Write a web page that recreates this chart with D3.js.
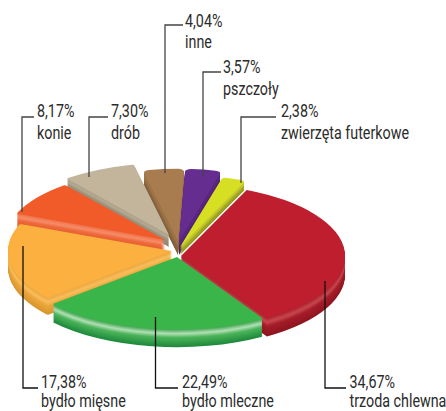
<!DOCTYPE html>
<html><head><meta charset="utf-8">
<script src="https://cdn.jsdelivr.net/npm/d3@7"></script>
<style>html,body{margin:0;padding:0;background:#fff;overflow:hidden}svg{display:block}
text{font-family:"Roboto",sans-serif;font-size:18px;fill:#2b2b2b}</style>
</head><body><svg id="c" width="446" height="411"></svg>
<script>
// data (clockwise from the top-right start of the pie)
const categories=["trzoda chlewna","bydło mleczne","bydło mięsne","konie","drób","inne","pszczoły","zwierzęta futerkowe"];
const values=[34.67,22.49,17.38,8.17,7.30,4.04,3.57,2.38];

// layout
const centerX=[181,177,172,165,169,178,179,180];
const centerY=[256,257,251,240,235,241,241,247];
const radiusX=[164,164,164,160,164,164,164,164];
const depth=[19,18,17,14,12,14,14,8];
const corner=[0,2,2,2,2,6,6,5];
const drawOrder=[5,6,4,7,3,0,2,1];
const topColors=["#be1e2d","#39b54a","#fbb040","#f15a29","#c2b59b","#a97c50","#662d91","#d7df23"];
const wallColors=[
 ["#a81c29","#c8494f","#a51d2a","#8e1620"],
 ["#2f9e40","#b2e0b6","#4cb45a","#1f8a3c"],
 ["#e9a33a","#f9bf5f","#eba73d","#d9962e"],
 ["#ee7048","#f68d69","#ee6a3d","#e05424"],
 ["#a89d85","#b5ab95","#9c917a","#8f8672"],
 ["#96703f","#a07748","#8e6842","#7f5c38"],
 ["#55257c","#5b2985","#4f2274","#431c63"],
 ["#b5ba1e","#c8cc40","#a8ad20","#94981c"]];
const yRatio=0.44;
const leaderX=[325,155.5,23,22,89,165,203,241];
const leaderEnd=[281,317,246,212,177,173,177,183];
const leaderY=[388,388,388,117,117,25,72,117];
const leaderTip=[346,178,38,34,108,183,221,276];
const leaderColor=["#111","#111","#111","#444","#444","#444","#444","#444"];
const labelX=[349.5,182,41,37,111,185,223,281];
const labelY=[388,388,388,117,117,27,73,117];
const lineGap=[19,19,19,22,22,21,22,22];

const svg=d3.select("#c");
const slices=d3.pie().sort(null).value(d=>d)
  .startAngle(23.6*Math.PI/180).endAngle((23.6+360)*Math.PI/180)(values);
const arc=(i)=>d3.arc().innerRadius(0).outerRadius(radiusX[i]).cornerRadius(corner[i]);

const pie=svg.append("g");
drawOrder.forEach(i=>{
  const g=pie.append("g");
  const ramp=d3.scaleLinear().domain([0,.28,.5,1]).range(wallColors[i]);
  const layers=d3.range(depth[i],0,-1);
  g.selectAll("path.w").data(layers).join("path").attr("class","w")
    .attr("d",arc(i)(slices[i]))
    .attr("fill",k=>ramp(k/depth[i]))
    .attr("transform",k=>`translate(${centerX[i]},${centerY[i]+k}) scale(1,${yRatio})`);
  g.append("path").attr("d",arc(i)(slices[i])).attr("fill",topColors[i])
    .attr("transform",`translate(${centerX[i]},${centerY[i]}) scale(1,${yRatio})`);
});

const fmt=v=>d3.format(".2f")(v).replace(".",",")+"%";
const labelScale=0.795;
categories.forEach((c,i)=>{
  svg.append("path").attr("fill","none").attr("stroke",leaderColor[i]).attr("stroke-width",1.3)
    .attr("d",d3.line()([[leaderTip[i],leaderY[i]],[leaderX[i],leaderY[i]],[leaderX[i],leaderEnd[i]]]));
  const g=svg.append("g").attr("transform",`translate(${labelX[i]},${labelY[i]}) scale(${labelScale},1)`);
  g.append("text").text(fmt(values[i]));
  g.append("text").attr("y",lineGap[i]).text(c);
});
</script></body></html>
